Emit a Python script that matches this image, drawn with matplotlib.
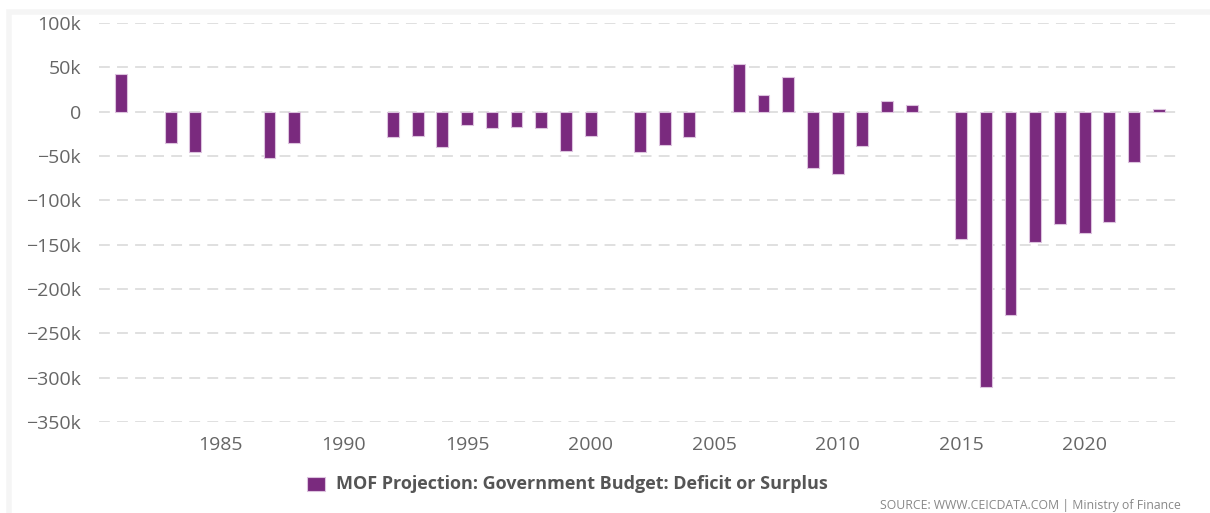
import matplotlib.pyplot as plt
from matplotlib.patches import Rectangle
from matplotlib.ticker import FuncFormatter

# data (thousands)
years = [1981, 1983, 1984, 1987, 1988, 1992, 1993, 1994, 1995, 1996, 1997, 1998,
         1999, 2000, 2002, 2003, 2004, 2006, 2007, 2008, 2009, 2010, 2011, 2012,
         2013, 2015, 2016, 2017, 2018, 2019, 2020, 2021, 2022, 2023]
values = [42, -35, -45, -52, -35, -29, -27, -40, -15, -18, -17, -18,
          -44, -27, -45, -38, -29, 54, 19, 39, -64, -70, -39, 12,
          8, -144, -310, -229, -147, -127, -137, -125, -57, 3]
yticks = [100, 50, 0, -50, -100, -150, -200, -250, -300, -350]
xticks = [1985, 1990, 1995, 2000, 2005, 2010, 2015, 2020]
series_name = "MOF Projection: Government Budget: Deficit or Surplus"

plt.rcParams['font.family'] = ['Open Sans', 'DejaVu Sans']

fig = plt.figure(figsize=(12.1, 5.13), dpi=100)
# light grey panel border
fig.patches.append(Rectangle((9 / 1210, -0.1), 1.2, 1.1 - 12 / 513,
                             transform=fig.transFigure, fill=False,
                             edgecolor='#f5f5f5', linewidth=4))

ax = fig.add_axes([99 / 1210, 1 - 422 / 513, (1181 - 99) / 1210, (422 - 23) / 513])
ax.bar(years, values, width=0.48, color='#7a2a7e', edgecolor='#dcc3de',
       linewidth=0.8, zorder=3, label=series_name)

ax.set_ylim(-350, 100)
ax.set_xlim(1980.1, 2023.9)
ax.set_yticks(yticks)
ax.set_xticks(xticks)
ax.yaxis.set_major_formatter(FuncFormatter(lambda v, p: "0" if v == 0 else f"{int(v)}k".replace("-", "\u2212")))
ax.grid(axis='y', color='#dddddd', linestyle=(0, (6, 4)), linewidth=1.3, zorder=0)
ax.grid(axis='x', visible=False)
for s in ax.spines.values():
    s.set_visible(False)
ax.tick_params(axis='both', length=0, labelsize=14, labelcolor='#666666')
ax.tick_params(axis='y', pad=13)
ax.tick_params(axis='x', pad=10)

# legend
fig.patches.append(Rectangle((307 / 1210, 1 - 491 / 513), 18 / 1210, 14 / 513,
                             transform=fig.transFigure, facecolor='#7a2a7e',
                             edgecolor='#dcc3de', linewidth=0.8))
fig.text(336 / 1210, 1 - 484 / 513, series_name, fontsize=13, fontweight='bold',
         color='#555555', va='center', ha='left')

fig.text(1181 / 1210, 1 - 505 / 513, "SOURCE: WWW.CEICDATA.COM | Ministry of Finance",
         fontsize=8.8, color='#888888', ha='right', va='center')

fig.savefig("out.png", dpi=100)
